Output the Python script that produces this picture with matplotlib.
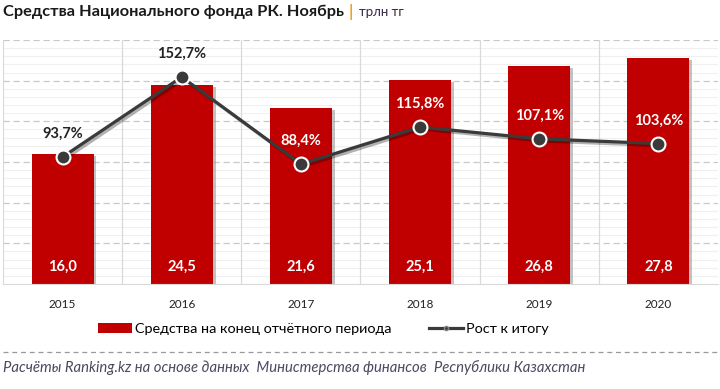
import matplotlib
matplotlib.use("Agg")
import matplotlib.pyplot as plt
from matplotlib.lines import Line2D
from matplotlib.patches import Patch
import matplotlib.patheffects as pe
import numpy as np

plt.rcParams['font.family'] = ['Lato', 'DejaVu Sans']

years = ["2015", "2016", "2017", "2018", "2019", "2020"]
funds = [16.0, 24.5, 21.6, 25.1, 26.8, 27.8]
growth = [93.7, 152.7, 88.4, 115.8, 107.1, 103.6]
growth_label_colors = ["#222222", "#222222", "white", "white", "white", "white"]

title = "Средства Национального фонда РК. Ноябрь"
unit = "трлн тг"
legend_bar = "Средства на конец отчётного периода"
legend_line = "Рост к итогу"
source = "Расчёты Ranking.kz на основе данных  Министерства финансов  Республики Казахстан"

def fmt(v):
    return f"{v:.1f}".replace(".", ",")

fig = plt.figure(figsize=(7.2, 3.89), dpi=100)
W, H = 720, 389
ax = fig.add_axes([3 / W, (H - 284) / H, (718 - 3) / W, (284 - 40) / H])
x = np.arange(len(years))

ax.set_xlim(-0.5, len(years) - 0.5)
ax.set_ylim(0, 30)
# minor grid lines
for yv in np.arange(1, 30, 1):
    if yv % 5:
        ax.axhline(yv, color="#f0f0f0", lw=0.8, zorder=0)
for yv in np.arange(5, 31, 5):
    ax.axhline(yv, color="#c8c8c8", lw=0.9, ls=(0, (5, 3)), zorder=0.5)
for xv in np.arange(0.5, len(years) - 0.5, 1):
    ax.axvline(xv, color="#d9d9d9", lw=0.9, zorder=0.5)

bars = ax.bar(x, funds, width=0.52, color="#c00000", zorder=2,
              path_effects=[pe.SimplePatchShadow(offset=(2, -1.5), shadow_rgbFace="#888888", alpha=0.5), pe.Normal()])
for xi, v in zip(x, funds):
    ax.text(xi, 2.1, fmt(v), ha="center", va="center", color="white",
            fontsize=10.5, fontweight="bold", zorder=5)

ax.set_xticks(x)
ax.set_xticklabels(years, fontsize=8.5, color="#222222")
ax.tick_params(axis="x", length=0, pad=11)
ax.set_yticks([])
for s in ["top", "right"]:
    ax.spines[s].set_visible(False)
ax.spines["left"].set_color("#d9d9d9")
ax.spines["bottom"].set_color("#d9d9d9")

ax2 = ax.twinx()
ax2.set_ylim(0, 180)
ax2.set_yticks([])
for s in ax2.spines.values():
    s.set_visible(False)
ax2.plot(x, growth, color="#3a3a3a", lw=2.3, zorder=3,
         path_effects=[pe.SimpleLineShadow(offset=(1.5, -1.5), alpha=0.3), pe.Normal()])
ax2.plot(x, growth, ls="none", marker="o", ms=10, mfc="#3a3a3a", mec="white", mew=1.5, zorder=4)
for xi, v, c in zip(x, growth, growth_label_colors):
    ax2.text(xi, v + 17, fmt(v) + "%", ha="center", va="center", color=c,
             fontsize=10.5, fontweight="bold", zorder=5)

# Title
t1 = fig.text(3 / W, 1 - 12 / H, title, fontsize=11.8, fontweight="bold", color="#1a1a1a",
              ha="left", va="center")
fig.canvas.draw()
bb = t1.get_window_extent()
fig.text((bb.x1 + 5) / W, 1 - 12 / H, "|", fontsize=12.5, fontweight="bold", color="#f0a030",
         ha="left", va="center")
fig.text((bb.x1 + 15) / W, 1 - 12 / H, unit, fontsize=9.5, color="#3a2a4a",
         ha="left", va="center")

# Legend
handles = [Patch(facecolor="#c00000", edgecolor="none"),
           Line2D([0], [0], color="#3a3a3a", lw=2.3, marker="o", ms=3, mfc="#3a3a3a", mec="#888888")]
fig.legend(handles, [legend_bar, legend_line], loc="center", bbox_to_anchor=(323 / W, 1 - 329 / H),
           ncol=2, frameon=False, fontsize=10.4, handlelength=2.35, handleheight=0.75,
           columnspacing=2.6, handletextpad=0.2, borderpad=0, borderaxespad=0)

# dashed separator and source
fig.add_artist(Line2D([3 / W, 720 / W], [1 - 352 / H, 1 - 352 / H], color="#9a9a9a", lw=0.9,
                      ls=(0, (4, 3))))
fig.text(3 / W, 1 - 368 / H, source, fontsize=10.7, style="italic", color="#4a4a60",
         ha="left", va="center")

fig.savefig("out.png", dpi=100)
